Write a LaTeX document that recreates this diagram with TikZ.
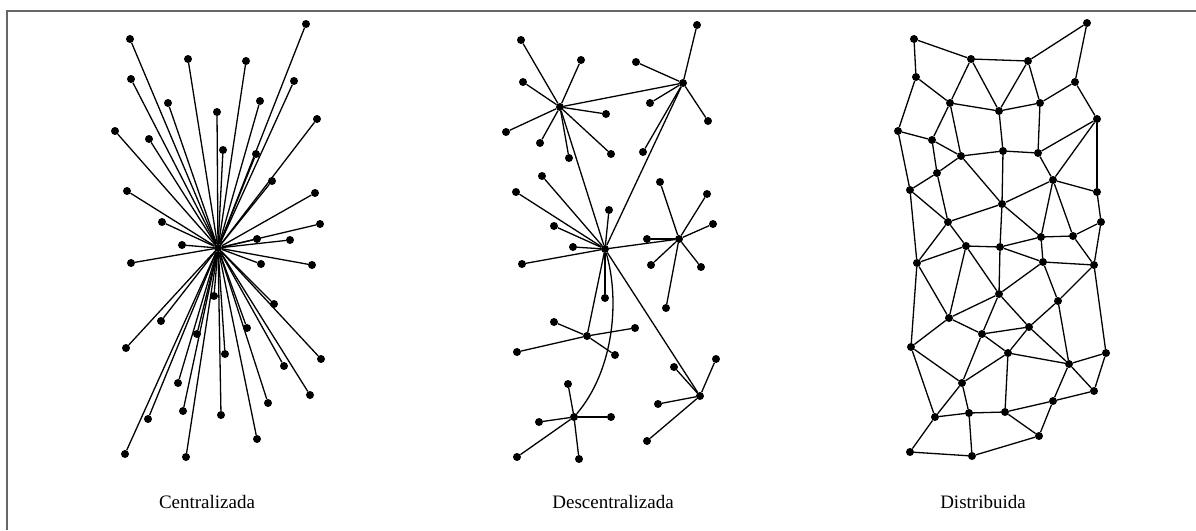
\documentclass[tikz,border=0pt]{standalone}
\usepackage{fontspec}
\setmainfont{Liberation Serif}
\tikzset{dot/.style={circle,fill=black,inner sep=0pt,minimum size=8pt}}
\tikzset{link/.style={line width=1.3pt}}
\tikzset{caption/.style={font=\fontsize{19}{22}\selectfont}}
\begin{document}
\begin{tikzpicture}[x=1pt,y=-1pt]
	    \useasboundingbox (0,0) rectangle (1196,530);
	    \draw[black!60,line width=1.5pt] (7,530) |- (1196,11);
	    % Centralizada
	    \node[dot] (hub) at (218,248) {};
	    \foreach \i/\x/\y in {1/306/24,2/130/39,3/188/59,4/246/61,5/131/79,6/294/81,7/168/103,8/260/101,
	        9/217/112,10/317/119,11/115/131,12/149/139,13/223/150,14/256/154,15/272/181,16/127/191,
	        17/315/193,18/162/222,19/320/224,20/257/239,21/290/240,22/182/245,23/131/263,24/261/264,
	        25/312/265,26/214/296,27/274/304,28/161/321,29/197/334,30/247/328,31/126/348,32/225/354,
	        33/321/359,34/284/366,35/178/383,36/310/395,37/268/403,38/148/419,39/183/411,40/221/415,
	        41/257/439,42/125/454,43/186/457}
	        {\node[dot] (z\i) at (\x,\y) {};
	         \draw[link] (hub) -- (z\i);}
	    % Descentralizada
	    \node[dot] (hA) at (683,83) {};
	    \node[dot] (hB) at (560,107) {};
	    \node[dot] (hC) at (605,249) {};
	    \node[dot] (hD) at (679,239) {};
	    \node[dot] (hE) at (587,336) {};
	    \node[dot] (hF) at (700,396) {};
	    \node[dot] (hG) at (574,417) {};
	    \foreach \h/\n/\x/\y in {A/a1/697/25,A/a2/636/62,A/a3/650/103,A/a4/708/121,A/a5/643/152,
	        B/b1/521/40,B/b2/581/60,B/b3/523/82,B/b4/606/114,B/b5/506/132,B/b6/540/143,B/b7/569/158,B/b8/611/154,
	        C/c1/542/176,C/c2/516/192,C/c3/554/226,C/c4/609/210,C/c5/573/247,C/c6/522/264,C/c7/605/298,
	        D/d1/660/182,D/d2/707/194,D/d3/713/224,D/d4/647/239,D/d5/651/265,D/d6/701/267,D/d7/666/308,
	        E/e1/554/322,E/e2/635/328,E/e3/517/352,E/e4/615/355,
	        F/f1/716/359,F/f2/674/367,F/f3/658/404,F/f4/647/441,
	        G/g1/568/384,G/g2/539/422,G/g3/611/417,G/g4/517/457,G/g5/579/459}
	        {\node[dot] (\n) at (\x,\y) {};
	         \draw[link] (h\h) -- (\n);}
	    \draw[link] (hB) -- (hA) -- (hC) -- (hB);
	    \draw[link] (hC) -- (hD);
	    \draw[link] (hC) -- (hE);
	    \draw[link] (hC) -- (hF);
	    \draw[link] (hC) .. controls (620,300) and (614,370) .. (hG);
	    % Distribuida
	    \foreach \i/\x/\y in {1/914/39,2/1087/23,3/971/59,4/1028/61,5/916/77,6/1075/82,7/950/103,8/1040/103,
	        9/999/111,10/1097/119,11/898/131,12/932/140,13/961/156,14/1003/151,15/1038/153,16/937/173,
	        17/1053/180,18/910/190,19/1097/192,20/1002/204,21/948/222,22/1101/222,23/1041/237,24/1073/236,
	        25/966/246,26/1000/247,27/917/263,28/1043/262,29/1094/265,30/999/294,31/1058/301,32/949/318,
	        33/1029/327,34/982/334,35/911/347,36/1008/353,37/1106/353,38/1069/364,39/962/383,40/1094/391,
	        41/1053/401,42/935/417,43/969/413,44/1005/412,45/1039/436,46/910/452,47/972/456}
	        {\node[dot] (m\i) at (\x,\y) {};}
	    \foreach \a/\b in {1/3,1/5,3/4,4/2,2/6,3/7,3/9,4/9,4/8,5/7,5/11,7/9,9/8,8/6,6/10,7/12,7/13,9/14,
	        8/15,11/12,11/18,12/13,12/16,13/14,14/15,15/10,10/17,10/19,13/16,13/20,14/20,15/17,16/18,
	        16/21,18/21,17/20,17/19,17/23,17/24,19/22,22/24,20/21,20/26,20/23,26/23,23/24,21/25,18/27,
	        21/27,25/27,25/26,23/28,24/29,22/29,28/29,26/28,26/30,25/30,25/32,27/32,27/35,28/30,28/31,
	        29/31,29/37,30/32,30/34,30/33,31/33,31/38,32/34,32/35,33/34,33/36,33/38,34/36,34/39,35/39,
	        35/42,36/39,36/44,36/38,38/37,37/40,38/40,38/41,40/41,41/44,41/45,39/42,39/43,42/43,43/44,
	        44/45,42/46,43/47,46/47,47/45}
	        \draw[link] (m\a) -- (m\b);
	    \node[caption] (lblC) at (207,502) {Centralizada};
	    \node[caption] (lblD) at (613,502) {Descentralizada};
	    \node[caption] (lblR) at (983,502) {Distribuida};
\end{tikzpicture}
\end{document}
